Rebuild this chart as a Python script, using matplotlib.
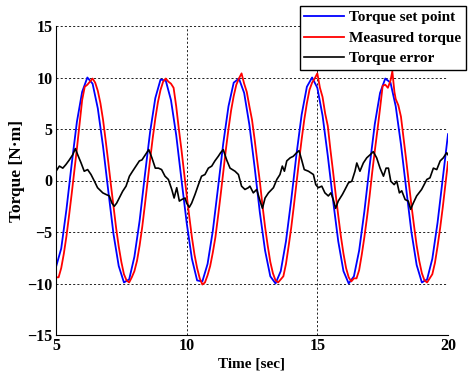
import matplotlib
matplotlib.use("Agg")
import matplotlib.pyplot as plt
import numpy as np

# torque set point (blue), read every 0.2 s
set_t = np.round(np.arange(5.0, 20.01, 0.2), 2)
set_v = [-8.4, -6.6, -2.8, 1.6, 5.7, 8.6, 10.0, 9.4, 7.0, 3.3,
         -1.0, -5.2, -8.3, -9.9, -9.6, -7.4, -3.9, 0.5, 4.7, 8.0,
         9.8, 9.7, 7.8, 4.4, 0.1, -4.1, -7.6, -9.7, -9.8, -8.1,
         -4.9, -0.7, 3.6, 7.2, 9.5, 9.9, 8.5, 5.4, 1.3, -3.1,
         -6.8, -9.3, -10.0, -8.8, -5.9, -1.9, 2.5, 6.4, 9.1, 10.0,
         9.0, 6.3, 2.4, -1.9, -5.9, -8.8, -10.0, -9.3, -6.8, -3.0,
         1.4, 5.5, 8.5, 9.9, 9.5, 7.2, 3.5, -0.8, -5.0, -8.2,
         -9.9, -9.6, -7.6, -4.1, 0.2, 4.5]

# measured torque (red)
meas_t = [5.0, 5.1, 5.2, 5.3, 5.4, 5.5, 5.6, 5.7, 5.8, 5.9,
          6.0, 6.1, 6.2, 6.3, 6.4, 6.5, 6.6, 6.7, 6.8, 6.9,
          7.0, 7.1, 7.2, 7.3, 7.4, 7.5, 7.6, 7.7, 7.8, 7.9,
          8.0, 8.1, 8.2, 8.3, 8.4, 8.5, 8.6, 8.7, 8.8, 8.9,
          9.0, 9.1, 9.2, 9.3, 9.4, 9.5, 9.6, 9.7, 9.8, 9.9,
          10.0, 10.1, 10.2, 10.3, 10.4, 10.5, 10.6, 10.7, 10.8, 10.9,
          11.0, 11.1, 11.2, 11.3, 11.4, 11.5, 11.6, 11.7, 11.8, 11.9,
          12.0, 12.1, 12.2, 12.3, 12.4, 12.5, 12.6, 12.7, 12.8, 12.9,
          13.0, 13.1, 13.2, 13.3, 13.4, 13.5, 13.6, 13.7, 13.8, 13.9,
          14.0, 14.1, 14.2, 14.3, 14.4, 14.5, 14.6, 14.7, 14.8, 14.9,
          15.0, 15.1, 15.2, 15.3, 15.4, 15.5, 15.6, 15.7, 15.8, 15.9,
          16.0, 16.1, 16.2, 16.3, 16.4, 16.5, 16.6, 16.7, 16.8, 16.9,
          17.0, 17.1, 17.2, 17.3, 17.4, 17.5, 17.6, 17.7, 17.8, 17.87,
          17.95, 18.0, 18.1, 18.2, 18.3, 18.4, 18.5, 18.6, 18.7, 18.8,
          18.9, 19.0, 19.1, 19.2, 19.3, 19.4, 19.5, 19.6, 19.7, 19.8,
          19.9, 20.0]
meas_v = [-9.4, -9.4, -8.5, -7.1, -5.4, -3.4, -1.3, 0.9, 3.1, 5.5,
          7.8, 9.1, 9.3, 9.6, 9.9, 9.5, 8.7, 7.5, 5.9, 3.9,
          1.8, -0.4, -2.5, -4.6, -6.4, -7.9, -9.1, -9.7, -9.9, -9.4,
          -8.8, -7.8, -6.3, -4.5, -2.4, -0.2, 2.0, 4.1, 6.0, 7.6,
          8.8, 9.6, 9.9, 9.6, 9.4, 9.0, 7.2, 5.0, 3.0, 0.8,
          -1.4, -3.5, -5.5, -7.2, -8.5, -9.5, -10.1, -9.9, -9.2, -8.3,
          -7.0, -5.5, -3.5, -1.4, 0.8, 3.0, 5.0, 6.8, 8.2, 9.3,
          9.9, 10.4, 9.4, 8.6, 7.2, 5.9, 4.0, 1.9, -0.1, -2.4,
          -4.5, -6.3, -7.9, -9.0, -9.7, -9.9, -9.6, -9.3, -8.1, -6.4,
          -4.6, -2.5, -0.3, 1.9, 4.0, 5.9, 7.5, 8.8, 9.5, 9.9,
          10.4, 9.0, 8.1, 6.5, 5.3, 3.0, 0.9, -1.3, -3.4, -5.4,
          -7.1, -8.5, -9.4, -9.8, -9.5, -9.5, -8.7, -7.2, -5.5, -3.6,
          -1.5, 0.8, 2.9, 4.9, 7.0, 9.2, 9.3, 9.0, 9.7, 10.6,
          8.6, 7.9, 7.3, 6.2, 4.1, 2.0, -0.2, -2.4, -4.4, -6.3,
          -7.8, -9.0, -9.7, -9.9, -9.5, -9.1, -8.0, -6.4, -4.6, -2.6,
          -0.4, 1.8]

# torque error (black)
err_t = [5.0, 5.13, 5.26, 5.38, 5.51, 5.64, 5.74, 5.83, 5.96, 6.08,
         6.21, 6.34, 6.47, 6.59, 6.79, 6.91, 7.04, 7.14, 7.23, 7.32,
         7.42, 7.55, 7.68, 7.81, 7.93, 8.06, 8.19, 8.29, 8.42, 8.55,
         8.67, 8.8, 8.92, 9.04, 9.17, 9.3, 9.43, 9.52, 9.62, 9.72,
         9.81, 9.94, 10.0, 10.1, 10.19, 10.32, 10.45, 10.57, 10.7, 10.83,
         10.96, 11.08, 11.21, 11.3, 11.4, 11.53, 11.66, 11.85, 11.98, 12.1,
         12.23, 12.36, 12.42, 12.55, 12.68, 12.81, 12.9, 13.0, 13.13, 13.32,
         13.45, 13.57, 13.66, 13.74, 13.83, 13.96, 14.08, 14.21, 14.3, 14.4,
         14.5, 14.66, 14.85, 14.94, 15.04, 15.17, 15.29, 15.42, 15.52, 15.61,
         15.7, 15.8, 15.96, 16.06, 16.19, 16.32, 16.44, 16.51, 16.63, 16.76,
         16.89, 17.02, 17.14, 17.27, 17.4, 17.53, 17.63, 17.72, 17.81, 17.94,
         18.04, 18.14, 18.23, 18.36, 18.48, 18.57, 18.67, 18.8, 18.99, 19.19,
         19.31, 19.44, 19.57, 19.7, 19.82, 19.95, 20.0]
err_v = [0.9, 1.4, 1.2, 1.55, 2.0, 2.5, 3.1, 2.5, 1.7, 0.9,
         1.06, 0.58, -0.07, -0.7, -1.2, -1.35, -1.5, -2.2, -2.5, -2.2,
         -1.7, -1.05, -0.55, 0.42, 0.9, 1.4, 1.9, 2.0, 2.5, 3.0,
         2.2, 1.2, 1.2, 1.06, 0.42, 0.1, -0.87, -1.7, -0.7, -2.0,
         -1.85, -1.7, -2.2, -2.6, -2.2, -1.35, -0.4, 0.42, 0.58, 1.2,
         1.4, 1.9, 2.35, 2.7, 3.0, 2.0, 1.2, 0.9, 0.58, -0.55,
         -0.87, -0.7, -0.55, -1.2, -0.87, -2.0, -2.7, -1.7, -1.2, -0.7,
         0.1, 0.58, 1.4, 0.9, 1.9, 2.2, 2.35, 2.7, 2.9, 2.0,
         1.06, 0.9, 0.58, -0.4, -0.7, -0.55, -1.2, -1.5, -1.2, -1.85,
         -2.7, -2.0, -1.35, -0.87, -0.23, -0.07, 0.9, 1.7, 0.9, 1.7,
         2.2, 2.5, 2.8, 2.2, 1.2, 0.42, 1.2, 1.2, -0.07, -0.4,
         -0.07, -1.2, -1.0, -1.85, -2.0, -2.8, -2.2, -1.5, -0.87, 0.1,
         0.26, 1.2, 1.06, 1.9, 2.2, 2.7, 2.5]

plt.rcParams['font.family'] = ['Liberation Serif', 'DejaVu Serif']
plt.rcParams['font.weight'] = 'bold'

fig = plt.figure(figsize=(4.68, 3.74), dpi=100)
ax = fig.add_axes([56/468, 1-335/374, 392/468, 309/374])

ax.plot(set_t, set_v, color='#0000ff', lw=1.3, label='Torque set point')
ax.plot(meas_t, meas_v, color='#ff0000', lw=1.3, label='Measured torque')
ax.plot(err_t, err_v, color='black', lw=1.2, label='Torque error')

ax.set_xlim(5, 20)
ax.set_ylim(-15, 15)
ax.set_xticks([5, 10, 15, 20])
ax.set_yticks([-15, -10, -5, 0, 5, 10, 15])
ax.grid(True, color='black', linestyle=(0, (2.5, 2.5)), linewidth=0.6)
ax.spines['top'].set_visible(False)
ax.spines['right'].set_visible(False)
ax.tick_params(length=0, labelsize=11.5, pad=2.5)
for lab in ax.get_xticklabels() + ax.get_yticklabels():
    lab.set_fontweight('bold')

ax.set_xlabel('Time [sec]', fontsize=11, fontweight='bold', labelpad=2)
ax.set_ylabel('Torque [N·m]', fontsize=12.5, fontweight='bold')
ax.yaxis.set_label_coords(-0.08, 0.53)

leg = fig.legend(loc='upper right', bbox_to_anchor=(466/468, 1-6/374),
                 fontsize=11, frameon=True, fancybox=False,
                 handlelength=2.6, labelspacing=0.45, borderpad=0.3,
                 handletextpad=0.35, borderaxespad=0)
leg.get_frame().set_edgecolor('black')
leg.get_frame().set_linewidth(1.0)
leg.get_frame().set_alpha(1)
for txt in leg.get_texts():
    txt.set_fontweight('bold')

fig.savefig('out.png', dpi=100)
